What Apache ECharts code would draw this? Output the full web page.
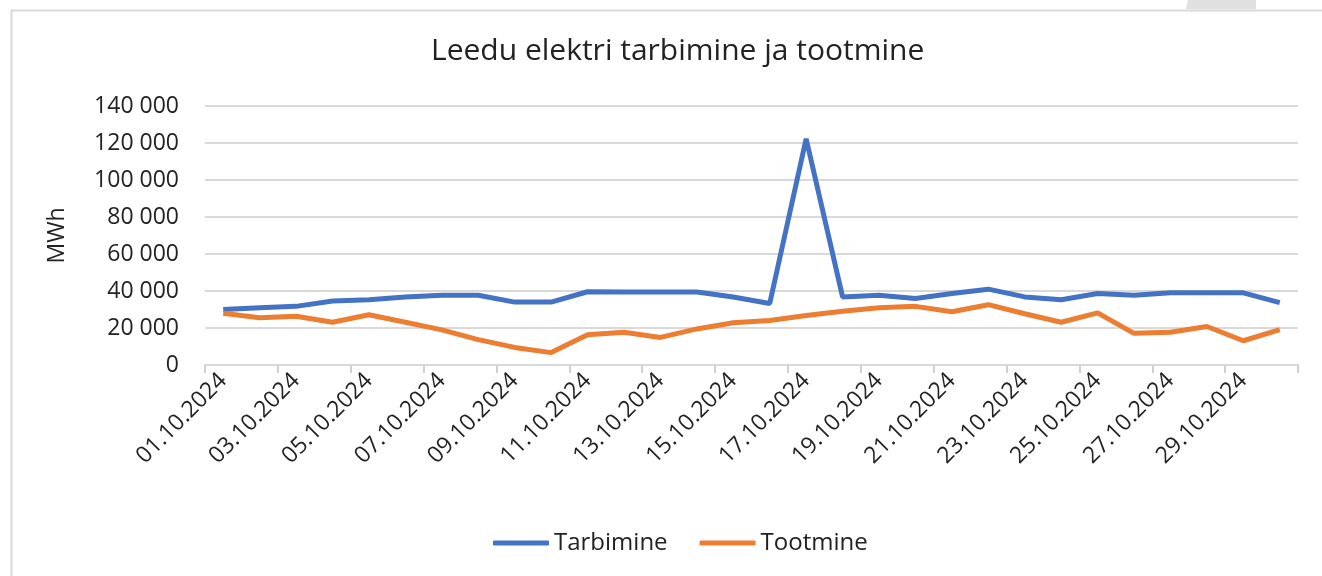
<!DOCTYPE html>
<html>
<head>
<meta charset="utf-8">
<script src="https://cdn.jsdelivr.net/npm/echarts@6/dist/echarts.min.js"></script>
<style>
  html, body { margin: 0; padding: 0; background: #fff; }
  #chart { width: 1322px; height: 576px; }
</style>
</head>
<body>
<div id="chart"></div>
<script>
// kuupäevad 01.10 - 30.10
const days = [
  '01.10.2024', '02.10.2024', '03.10.2024', '04.10.2024', '05.10.2024',
  '06.10.2024', '07.10.2024', '08.10.2024', '09.10.2024', '10.10.2024',
  '11.10.2024', '12.10.2024', '13.10.2024', '14.10.2024', '15.10.2024',
  '16.10.2024', '17.10.2024', '18.10.2024', '19.10.2024', '20.10.2024',
  '21.10.2024', '22.10.2024', '23.10.2024', '24.10.2024', '25.10.2024',
  '26.10.2024', '27.10.2024', '28.10.2024', '29.10.2024', '30.10.2024'
]
const tarbimine = [
  30000, 31000, 31700, 34600, 35300, 36800, 37700, 37700, 34000, 34000,
  39600, 39500, 39500, 39500, 36800, 33200, 122300, 36800, 37700, 35900,
  38700, 41000, 36800, 35300, 38600, 37700, 39000, 39000, 39000, 33700
]
const tootmine = [
  28000, 25500, 26400, 23100, 27200, 23100, 19000, 13700, 9500, 6700,
  16400, 17700, 14900, 19500, 22800, 24000, 26800, 29100, 31000, 31700,
  28800, 32600, 27700, 23100, 28200, 17100, 17700, 20800, 13100, 19100
]
const yTicks = [0, 20000, 40000, 60000, 80000, 100000, 120000, 140000]

const font = '"Open Sans", "Liberation Sans", sans-serif'
const myChart = echarts.init(document.getElementById('chart'))
myChart.setOption({
  animation: false,
  textStyle: { fontFamily: font },
  title: {
    text: 'Leedu elektri tarbimine ja tootmine',
    left: 426,
    top: 31,
    textStyle: { fontFamily: font, fontSize: 30, fontWeight: 'normal', color: '#222' }
  },
  // raam ja ülemise serva jäägid
  graphic: [
    {
      type: 'rect',
      shape: { x: 11.5, y: 10.5, width: 1330, height: 580 },
      style: { fill: 'none', stroke: '#d9d9d9', lineWidth: 2 },
      silent: true
    },
    {
      type: 'polygon',
      shape: { points: [[1188, 0], [1256, 0], [1256, 9], [1186, 9]] },
      style: { fill: '#e0e0e0' },
      silent: true
    }
  ],
  legend: {
    bottom: 16,
    left: 488,
    icon: 'roundRect',
    itemWidth: 56,
    itemHeight: 5,
    itemGap: 32,
    textStyle: { fontFamily: font, fontSize: 24, color: '#222' },
    data: ['Tarbimine', 'Tootmine']
  },
  grid: {
    left: 205,
    right: 24,
    top: 106,
    bottom: 211
  },
  xAxis: {
    type: 'category',
    data: days,
    boundaryGap: true,
    axisLine: { lineStyle: { color: '#d9d9d9', width: 2 } },
    axisTick: { show: true, interval: 1, length: 8, lineStyle: { color: '#d0d0d0', width: 2 } },
    axisLabel: {
      interval: 1,
      rotate: 45,
      margin: 12,
      fontFamily: font,
      fontSize: 23,
      color: '#222'
    }
  },
  yAxis: {
    type: 'value',
    min: yTicks[0],
    max: yTicks[yTicks.length - 1],
    interval: 20000,
    name: 'MWh',
    nameLocation: 'middle',
    nameGap: 136,
    nameRotate: 90,
    nameTextStyle: { fontFamily: font, fontSize: 23, color: '#222' },
    axisLine: { show: false },
    axisTick: { show: false },
    axisLabel: {
      margin: 26,
      fontFamily: font,
      fontSize: 23,
      color: '#222',
      formatter: v => String(v).replace(/\B(?=(\d{3})+(?!\d))/g, ' ')
    },
    splitLine: { lineStyle: { color: '#d9d9d9', width: 2 } }
  },
  series: [
    {
      name: 'Tarbimine',
      type: 'line',
      data: tarbimine,
      symbol: 'none',
      lineStyle: { color: '#4472c4', width: 5 },
      itemStyle: { color: '#4472c4' }
    },
    {
      name: 'Tootmine',
      type: 'line',
      data: tootmine,
      symbol: 'none',
      lineStyle: { color: '#ed7d31', width: 5 },
      itemStyle: { color: '#ed7d31' }
    }
  ]
})
</script>
</body>
</html>
